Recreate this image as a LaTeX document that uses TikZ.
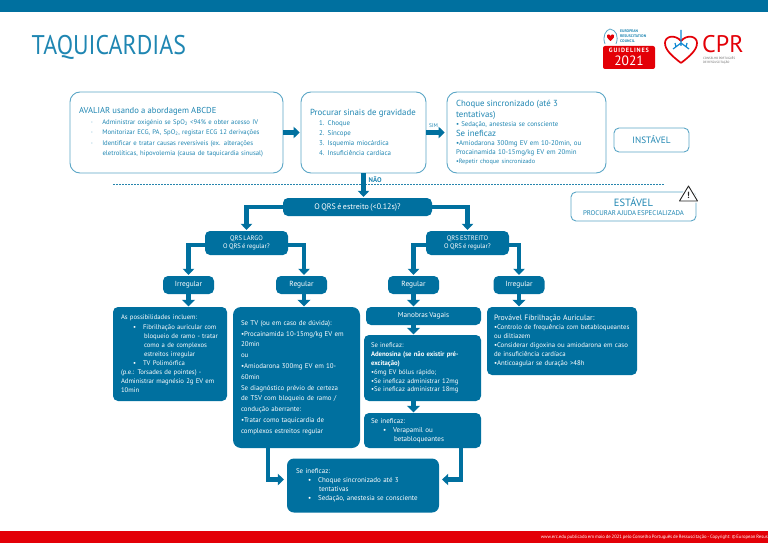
\documentclass[tikz,border=0pt]{standalone}
\usepackage{fontspec}
\setmainfont[WordSpace=0.72]{PT Sans}
\newfontfamily\titlefont[FakeStretch=0.885]{PT Sans}
\usetikzlibrary{arrows.meta}
\definecolor{ercblue}{HTML}{00709F}
\definecolor{lineblue}{HTML}{5BA6C6}
\definecolor{textblue}{HTML}{1F86B2}
\definecolor{ercred}{HTML}{E30007}
\newcommand{\fsa}{\fontsize{6.6}{10}\selectfont}
\newcommand{\fsb}{\fontsize{7.4}{10}\selectfont}
\newcommand{\blt}[1]{\hspace*{#1pt}\textbullet\hspace*{7pt}}
\tikzset{
  openbox/.style={draw=lineblue,line width=0.9pt,fill=white,rounded corners=10pt,text=textblue,align=left,inner sep=0pt},
  solidbox/.style={fill=ercblue,rounded corners=5pt,text=white,align=left,inner sep=0pt},
  choicebox/.style={solidbox,align=center,minimum width=51pt,minimum height=18pt,font=\fsb},
  flow/.style={draw=ercblue,line width=4.4pt,-{Triangle[width=11.5pt,length=6pt]},shorten >=1pt},
  flowshort/.style={flow,-{Triangle[width=13pt,length=6.5pt]},shorten >=0.5pt}
}
\begin{document}
\begin{tikzpicture}[x=1pt,y=-1pt]
  \useasboundingbox (0,0) rectangle (768,543);
  % bars and title
  \fill[ercblue] (0,0) rectangle (768,12);
  \fill[ercred] (0,531) rectangle (768,543);
  \node[anchor=west,inner sep=0pt,text=textblue,font=\titlefont\fontsize{27}{27}\selectfont] (title) at (31.5,47.5) {TAQUICARDIAS};
  \node[anchor=east,inner sep=0pt,text=white,font=\fontsize{4.7}{5}\selectfont] (footer) at (768,537) {www.erc.edu publicado em maio de 2021 pelo Conselho Português de Ressuscitação - Copyright: © European Resus};
  % logos
  \fill[ercred,rounded corners=2pt] (603,46) rectangle (655,69);
  \node[text=white,inner sep=0pt,font=\bfseries\fontsize{6.2}{7}\selectfont\addfontfeature{LetterSpace=14}] (guide) at (629,50.5) {GUIDELINES};
  \node[text=white,inner sep=0pt,font=\fontsize{13.5}{14}\selectfont] (year) at (629,61) {2021};
  \node[anchor=west,align=left,inner sep=0pt,text=textblue,font=\bfseries\fontsize{3.8}{4.7}\selectfont] (erc) at (620,36) {EUROPEAN\\RESUSCITATION\\COUNCIL};
  \draw[lineblue,line width=0.8pt] (605,44) .. controls (602,36) and (606,30) .. (610,29) .. controls (616,30) and (619,36) .. (616,44);
  \fill[ercred] (610.5,41) .. controls (607,38) and (606,36) .. (607,35) .. controls (608,34) and (610,34) .. (610.5,36) .. controls (611,34) and (613,34) .. (614,35) .. controls (615,36) and (614,38) .. (610.5,41);
  \draw[ercred,line width=1.7pt,line join=round] (681,63) .. controls (672,56) and (665,50) .. (665,43) .. controls (665,36) and (675,34) .. (681,41) .. controls (687,34) and (697,36) .. (697,43) .. controls (697,50) and (690,56) .. (681,63);
  \draw[cyan!70!blue,line width=1.2pt] (681,30) -- (681,46) (681,43) -- (673,49) (681,43) -- (689,49) (675,43) -- (676,47) (687,43) -- (686,47);
  \node[anchor=west,inner sep=0pt,text=ercred,font=\fontsize{24}{24}\selectfont] (cpr) at (702,44.5) {CPR};
  \node[anchor=north west,align=left,inner sep=0pt,text=black!60,font=\fontsize{3.1}{3.9}\selectfont] (cprsub) at (703,56.5) {CONSELHO PORTUGUÊS\\DE RESSUSCITAÇÃO};
  % unstable part
  \node[openbox,minimum width=213pt,minimum height=81pt,text width=195pt,font=\fontsize{6.7}{10.5}\selectfont] (avaliar) at (176.5,132.5) {%
    {\fontsize{8.6}{10.5}\selectfont AVALIAR usando a abordagem ABCDE}\\
    \hspace*{12pt}·\hspace*{9.5pt}Administrar oxigénio se SpO\textsubscript{2} <94\% e obter acesso IV\\
    \hspace*{12pt}·\hspace*{9.5pt}Monitorizar ECG, PA, SpO\textsubscript{2}, registar ECG 12 derivações\\
    \hspace*{12pt}·\hspace*{9.5pt}Identificar e tratar causas reversíveis (ex. alterações\\
    \hspace*{23.5pt}eletrolíticas, hipovolemia (causa de taquicardia sinusal)};
  \node[openbox,minimum width=125pt,minimum height=81pt,text width=107pt,font=\fontsize{6.9}{10}\selectfont] (sinais) at (363.5,132.5) {%
    {\fontsize{8.8}{10}\selectfont Procurar sinais de gravidade}\\
    \hspace*{9pt}1. Choque\\
    \hspace*{9pt}2. Síncope\\
    \hspace*{9pt}3. Isquemia miocárdica\\
    \hspace*{9pt}4. Insuficiência cardíaca};
  \node[openbox,minimum width=159pt,minimum height=81pt,text width=141pt,font=\fontsize{6.9}{9.3}\selectfont] (choque) at (526.5,132.5) {%
    {\fontsize{8.8}{9.3}\selectfont Choque sincronizado (até 3}\\[1.5pt]
    {\fontsize{8.8}{9.3}\selectfont tentativas)}\\
    {\fontsize{6.8}{9.3}\selectfont \textbullet\ Sedação, anestesia se consciente}\\
    {\fontsize{8.8}{9.3}\selectfont Se ineficaz}\\
    \textbullet Amiodarona 300mg EV em 10-20min, ou\\
    Procainamida 10-15mg/kg EV em 20min\\[-1pt]
    {\fontsize{6.2}{9.3}\selectfont \textbullet Repetir choque sincronizado}};
  \node[openbox,rounded corners=5pt,align=center,minimum width=75pt,minimum height=24pt,font=\fontsize{9.2}{10}\selectfont] (instavel) at (651.5,140) {INSTÁVEL};
  \node[openbox,rounded corners=5pt,align=center,minimum width=125pt,minimum height=29pt,font=\fontsize{6.9}{9.5}\selectfont] (estavel) at (633.5,206.5) {%
    {\fontsize{10.5}{9.5}\selectfont ESTÁVEL}\\
    PROCURAR AJUDA ESPECIALIZADA};
  % warning sign
  \draw[white,fill=white,line width=3pt,line join=round] (688.5,186) -- (697.5,201) -- (679.5,201) -- cycle;
  \draw[black!85,line width=0.9pt,line join=round] (688.5,186) -- (697.5,201) -- (679.5,201) -- cycle;
  \node[inner sep=0pt,text=black!85,font=\bfseries\fontsize{9}{9}\selectfont] (warn) at (688.5,195) {!};
  % dashed separator
  \coordinate (dashl) at (113,184);
  \coordinate (dashr) at (664,184);
  \draw[ercblue!85,line width=0.7pt,dash pattern=on 2pt off 1pt] (dashl) -- (dashr);
  % stable part
  \node[solidbox,align=center,minimum width=149pt,minimum height=18pt,font=\fontsize{8}{9}\selectfont] (qrs) at (357.5,207) {O QRS é estreito (<0.12s)?};
  \node[solidbox,align=center,minimum width=83pt,minimum height=24pt,font=\fontsize{6.6}{8.4}\selectfont] (largo) at (246.5,243) {QRS LARGO\\O QRS é regular?};
  \node[solidbox,align=center,minimum width=83pt,minimum height=24pt,font=\fontsize{6.6}{8.4}\selectfont] (estreito) at (467.5,243) {QRS ESTREITO\\O QRS é regular?};
  \node[choicebox] (irregl) at (188.5,285) {Irregular};
  \node[choicebox] (regl) at (301.5,285) {Regular};
  \node[choicebox] (regr) at (413.5,285) {Regular};
  \node[choicebox] (irregr) at (519,285) {Irregular};
  \node[solidbox,minimum width=114pt,minimum height=94pt,text width=98pt,font=\fontsize{6.7}{9.1}\selectfont] (poss) at (170,354) {%
    As possibilidades incluem:\\
    \blt{12}Fibrilhação auricular com\\
    \hspace*{23pt}bloqueio de ramo - tratar\\
    \hspace*{23pt}como a de complexos\\
    \hspace*{23pt}estreitos irregular\\
    \blt{12}TV Polimórfica\\
    (p.e.: Torsades de pointes) -\\
    Administrar magnésio 2g EV em\\
    10min};
  \node[solidbox,rounded corners=8pt,minimum width=127pt,minimum height=141pt,text width=111pt,font=\fontsize{6.9}{10.8}\selectfont] (setv) at (296.5,377.5) {%
    Se TV (ou em caso de dúvida):\\
    \textbullet Procainamida 10-15mg/kg EV em\\
    20min\\
    ou\\
    \textbullet Amiodarona 300mg EV em 10-\\
    60min\\
    Se diagnóstico prévio de certeza\\
    de TSV com bloqueio de ramo /\\
    condução aberrante:\\
    \textbullet Tratar como taquicardia de\\
    complexos estreitos regular};
  \node[solidbox,align=center,minimum width=115pt,minimum height=18pt,font=\fontsize{7.2}{9}\selectfont] (vagais) at (423.5,316) {Manobras Vagais};
  \node[solidbox,minimum width=150pt,minimum height=68pt,text width=136pt,font=\fontsize{6.8}{8.9}\selectfont] (fibril) at (562,341) {%
    {\fontsize{7.7}{8.9}\selectfont Provável Fibrilhação Auricular:}\\
    \textbullet Controlo de frequência com betabloqueantes\\
    ou diltiazem\\
    \textbullet Considerar digoxina ou amiodarona em caso\\
    de insuficiência cardíaca\\
    \textbullet Anticoagular se duração  >48h};
  \node[solidbox,minimum width=117pt,minimum height=66pt,text width=103pt,font=\fontsize{6.7}{8.9}\selectfont] (adeno) at (422.5,368) {%
    Se ineficaz:\\
    \textbf{Adenosina (se não existir pré-}\\
    \textbf{excitação)}\\
    \textbullet 6mg EV bólus rápido;\\
    \textbullet Se ineficaz administrar 12mg\\
    \textbullet Se ineficaz administrar 18mg};
  \node[solidbox,minimum width=117pt,minimum height=35pt,text width=103pt,font=\fontsize{7}{9}\selectfont] (verap) at (422.5,430.5) {%
    Se ineficaz:\\
    \blt{12}Verapamil ou\\
    \hspace*{23pt}betabloqueantes};
  \node[solidbox,rounded corners=7pt,minimum width=152pt,minimum height=54pt,text width=134pt,font=\fontsize{7}{9}\selectfont] (final) at (363,485.5) {%
    Se ineficaz:\\
    \blt{12}Choque sincronizado até 3\\
    \hspace*{23pt}tentativas\\
    \blt{12}Sedação, anestesia se consciente};
  % connectors
  \draw[flow] (avaliar.east) -- (sinais.west);
  \draw[flow,shorten >=2pt] (sinais.east) -- node[above=1.5pt,xshift=-3pt,text=textblue,inner sep=1pt,font=\fontsize{5.4}{6}\selectfont] (sim) {SIM} (choque.west);
  \draw[flow] (sinais.south) -- node[right=3pt,pos=0.25,text=textblue,inner sep=0pt,font=\bfseries\fontsize{6.8}{7}\selectfont] (nao) {NÃO} (sinais.south |- qrs.north);
  \draw[flow] (qrs.west) -| (largo.north);
  \draw[flow] (qrs.east) -| (estreito.north);
  \draw[flow] ([yshift=-2pt]largo.west) -| (irregl.north);
  \draw[flow] ([yshift=-2pt]largo.east) -| ([xshift=2.5pt]regl.north);
  \draw[flow] ([yshift=-2pt]estreito.west) -| (regr.north);
  \draw[flow] ([yshift=-2pt]estreito.east) -| (irregr.north);
  \draw[flowshort] (irregl.south) -- (irregl.south |- poss.north);
  \draw[flowshort] ([xshift=2.5pt]regl.south) -- ([xshift=2.5pt]regl.south |- setv.north);
  \draw[flowshort] (regr.south) -- (regr.south |- vagais.north);
  \draw[flowshort] (irregr.south) -- (irregr.south |- fibril.north);
  \draw[flowshort] (regr.south |- vagais.south) -- (regr.south |- adeno.north);
  \draw[flowshort] (regr.south |- adeno.south) -- (regr.south |- verap.north);
  \draw[flow,shorten >=3pt] ([xshift=-28.5pt]setv.south) |- ([yshift=6pt]final.west);
  \draw[flow,shorten >=3pt] ([xshift=38.5pt]verap.south) |- ([yshift=6pt]final.east);
\end{tikzpicture}
\end{document}
